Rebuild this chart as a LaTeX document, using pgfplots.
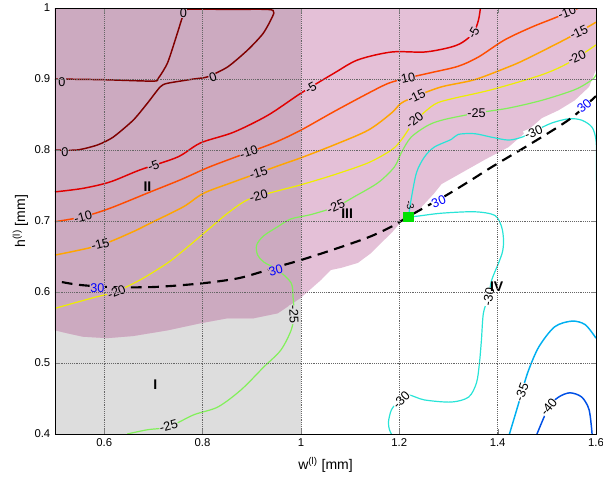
\documentclass[border=0pt]{standalone}
\usepackage{pgfplots}
\pgfplotsset{compat=1.18}
\usepackage{fontspec}
\setmainfont{Liberation Sans}
\definecolor{mauve}{RGB}{204,170,192}
\definecolor{pinkreg}{RGB}{228,192,215}
\definecolor{grayreg}{RGB}{221,221,221}
\definecolor{c0}{RGB}{128,0,0}
\definecolor{c5}{RGB}{225,0,0}
\definecolor{c10}{RGB}{255,75,0}
\definecolor{c15}{RGB}{255,165,0}
\definecolor{c20}{RGB}{238,238,0}
\definecolor{c25}{RGB}{130,240,90}
\definecolor{c30}{RGB}{40,228,215}
\definecolor{c35}{RGB}{0,175,240}
\definecolor{c40}{RGB}{0,80,230}
\definecolor{sq}{RGB}{0,225,0}
\newcommand{\clab}[5]{\node[rotate=#3, fill=#5, inner sep=0.2pt, font=\fontsize{9.5}{10}\selectfont] at (axis cs:#1,#2) {#4};}
\newcommand{\blab}[4]{\node[rotate=#3, fill=#4, inner sep=0.2pt, text=blue, font=\fontsize{9.5}{10}\selectfont] at (axis cs:#1,#2) {30};}
\newcommand{\rlab}[3]{\node[font=\bfseries\fontsize{10.5}{12}\selectfont] at (axis cs:#1,#2) {#3};}
\begin{document}
\begin{tikzpicture}
\begin{axis}[
  scale only axis, width=405.75pt, height=319.5pt,
  xmin=0.5, xmax=1.6, ymin=0.4, ymax=1,
  xtick={0.6,0.8,1,1.2,1.4,1.6},
  ytick={0.4,0.5,0.6,0.7,0.8,0.9,1},
  grid=major, grid style={densely dotted, black!60, line width=0.5pt},
  axis on top,
  tick align=inside, major tick length=3.5pt,
  tick label style={font=\fontsize{8.5}{9}\selectfont},
  /pgf/number format/assume math mode=true,
  axis line style={line width=0.5pt},
  every axis x label/.style={at={(axis description cs:0.5,-0.073)}, anchor=center},
  every axis y label/.style={at={(axis description cs:-0.064,0.5)}, rotate=90, anchor=center},
  label style={font=\fontsize{10.5}{12}\selectfont},
  xlabel={w\textsuperscript{(l)} [mm]},
  ylabel={h\textsuperscript{(l)} [mm]},
]
% regions
\addplot[fill=grayreg, draw=none] coordinates {(0.5,0.4) (1,0.4) (1,1) (0.5,1)} -- cycle;
\addplot[fill=pinkreg, draw=none] coordinates {
 (0.5,1) (1.6,1) (1.6,0.913) (1.586,0.889) (1.557,0.870) (1.524,0.856) (1.49,0.845)
 (1.455,0.824) (1.422,0.804) (1.373,0.786) (1.327,0.768) (1.286,0.752) (1.271,0.739)
 (1.239,0.715) (1.218,0.706) (1.204,0.699) (1.184,0.683) (1.163,0.669) (1.143,0.655)
 (1.116,0.641) (1.082,0.634) (1.061,0.631) (1.041,0.617) (1.0,0.592)
 (0.953,0.570) (0.904,0.563) (0.851,0.563) (0.796,0.556) (0.729,0.546) (0.659,0.538)
 (0.606,0.535) (0.557,0.537) (0.524,0.542) (0.5,0.546)} -- cycle;
\addplot[fill=mauve, draw=none] coordinates {
 (0.5,1) (1,1) (1.0,0.592)
 (0.953,0.570) (0.904,0.563) (0.851,0.563) (0.796,0.556) (0.729,0.546) (0.659,0.538)
 (0.606,0.535) (0.557,0.537) (0.524,0.542) (0.5,0.546)} -- cycle;
% contour 0
\addplot[c0, line width=1.1pt, smooth, tension=0.4] coordinates {
 (0.5,0.9) (0.6,0.899) (0.7,0.897) (0.710,0.901) (0.729,0.923) (0.749,0.965) (0.759,0.987)
 (0.767,0.998) (0.85,0.998) (0.933,0.998) (0.945,0.993) (0.924,0.965) (0.892,0.941) (0.851,0.917)
 (0.810,0.903) (0.782,0.9) (0.729,0.894) (0.714,0.889) (0.688,0.866) (0.659,0.842)
 (0.618,0.818) (0.586,0.807) (0.545,0.8) (0.5,0.8)};
% contour -5
\addplot[c5, line width=1.1pt, smooth, tension=0.5] coordinates {
 (0.5,0.741) (0.557,0.746) (0.612,0.755) (0.673,0.772) (0.749,0.79) (0.796,0.81) (0.863,0.825)
 (0.933,0.849) (1.0,0.88) (1.067,0.908) (1.116,0.927) (1.184,0.938) (1.251,0.938) (1.30,0.944)
 (1.327,0.951) (1.351,0.965) (1.361,0.983) (1.365,1.0)};
% contour -10
\addplot[c10, line width=1.1pt, smooth, tension=0.5] coordinates {
 (0.5,0.699) (0.557,0.706) (0.612,0.718) (0.694,0.741) (0.755,0.758) (0.810,0.775) (0.863,0.789)
 (0.945,0.81) (1.0,0.828) (1.067,0.854) (1.137,0.880) (1.178,0.894) (1.214,0.901) (1.265,0.909)
 (1.32,0.918) (1.361,0.931) (1.414,0.955) (1.469,0.973) (1.516,0.986) (1.565,1.0)};
% contour -15
\addplot[c15, line width=1.1pt, smooth, tension=0.5] coordinates {
 (0.5,0.652) (0.592,0.666) (0.659,0.685) (0.694,0.697) (0.761,0.72) (0.802,0.739) (0.863,0.755)
 (0.959,0.779) (1.0,0.789) (1.067,0.807) (1.137,0.828) (1.184,0.852) (1.204,0.866) (1.235,0.876)
 (1.286,0.889) (1.353,0.899) (1.422,0.917) (1.455,0.927) (1.524,0.951) (1.565,0.966) (1.6,0.98)};
% contour -20
\addplot[c20, line width=0.9pt, smooth, tension=0.5] coordinates {
 (0.5,0.577) (0.578,0.592) (0.622,0.6) (0.673,0.617) (0.729,0.641) (0.769,0.663) (0.810,0.687)
 (0.851,0.711) (0.892,0.730) (0.945,0.741) (1.0,0.751) (1.067,0.765) (1.137,0.782) (1.184,0.8)
 (1.204,0.814) (1.231,0.84) (1.271,0.864) (1.306,0.872) (1.388,0.885) (1.49,0.906) (1.545,0.923)
 (1.6,0.948)};
% contour -25
\addplot[c25, line width=0.9pt, smooth, tension=0.5] coordinates {
 (1.6,0.906) (1.592,0.899) (1.557,0.885) (1.49,0.870) (1.422,0.859) (1.357,0.852) (1.292,0.843)
 (1.259,0.835) (1.224,0.818) (1.204,0.796) (1.190,0.776) (1.157,0.754) (1.108,0.734) (1.071,0.72)
 (1.02,0.709) (0.98,0.703) (0.953,0.692) (0.924,0.679) (0.910,0.666) (0.912,0.652) (0.925,0.642)
 (0.953,0.631) (0.98,0.613) (0.984,0.593) (0.986,0.568) (0.98,0.546) (0.959,0.518) (0.924,0.494)
 (0.878,0.462) (0.831,0.438) (0.782,0.427) (0.731,0.410) (0.688,0.406) (0.647,0.4)};
% contour -30
\addplot[c30, line width=0.9pt, smooth, tension=0.5] coordinates {
 (1.220,0.712) (1.224,0.730) (1.235,0.768) (1.251,0.790) (1.271,0.804) (1.306,0.815) (1.320,0.822)
 (1.353,0.823) (1.388,0.818) (1.422,0.814) (1.449,0.818) (1.473,0.826) (1.51,0.838) (1.545,0.844)
 (1.571,0.842) (1.592,0.832) (1.600,0.814) (1.601,0.786) (1.601,0.757)};
\addplot[c30, line width=0.9pt, smooth, tension=0.5] coordinates {
 (1.224,0.706) (1.239,0.707) (1.286,0.711) (1.353,0.713) (1.394,0.708) (1.408,0.692) (1.412,0.673)
 (1.410,0.657) (1.402,0.641) (1.388,0.617) (1.381,0.593) (1.371,0.570) (1.367,0.532) (1.363,0.5)
 (1.357,0.472) (1.341,0.452) (1.306,0.445) (1.251,0.448) (1.218,0.455) (1.198,0.446) (1.184,0.434)
 (1.178,0.417) (1.18,0.406) (1.184,0.4)};
% contour -35
\addplot[c35, line width=1.1pt, smooth, tension=0.5] coordinates {
 (1.424,0.4) (1.443,0.444) (1.449,0.459) (1.463,0.490) (1.484,0.523) (1.516,0.551) (1.551,0.559)
 (1.578,0.554) (1.6,0.535)};
% contour -40
\addplot[c40, line width=1.1pt, smooth, tension=0.5] coordinates {
 (1.48,0.4) (1.504,0.438) (1.524,0.452) (1.547,0.458) (1.571,0.452) (1.586,0.434) (1.592,0.4)};
% marker and dashed line
\addplot[only marks, mark=square*, mark size=3.6pt, mark options={fill=sq, draw=sq}] coordinates {(1.218,0.706)};
\addplot[black, line width=1.6pt, dash pattern=on 8pt off 5pt, smooth, tension=0.5] coordinates {
 (0.514,0.614) (0.55,0.610) (0.612,0.607) (0.7,0.607) (0.796,0.612) (0.87,0.619) (0.918,0.628)
 (0.96,0.637) (1.0,0.645) (1.067,0.660) (1.137,0.677) (1.184,0.692) (1.218,0.706) (1.259,0.722)
 (1.30,0.738) (1.347,0.758) (1.388,0.776) (1.463,0.807) (1.524,0.833) (1.557,0.849) (1.6,0.876)};
% contour labels
\clab{0.761}{0.993}{0}{0}{mauve}
\clab{0.821}{0.902}{20}{0}{mauve}
\clab{0.514}{0.896}{0}{0}{mauve}
\clab{0.52}{0.797}{0}{0}{mauve}
\clab{0.70}{0.778}{20}{-5}{mauve}
\clab{1.02}{0.887}{30}{-5}{pinkreg}
\clab{1.351}{0.965}{60}{-5}{pinkreg}
\clab{0.557}{0.706}{15}{-10}{mauve}
\clab{0.894}{0.797}{18}{-10}{mauve}
\clab{1.214}{0.901}{12}{-10}{pinkreg}
\clab{1.541}{0.994}{20}{-10}{pinkreg}
\clab{0.592}{0.667}{15}{-15}{mauve}
\clab{0.914}{0.768}{18}{-15}{mauve}
\clab{1.235}{0.876}{25}{-15}{pinkreg}
\clab{1.565}{0.966}{25}{-15}{pinkreg}
\clab{0.625}{0.600}{22}{-20}{mauve}
\clab{0.914}{0.735}{15}{-20}{mauve}
\clab{1.231}{0.842}{38}{-20}{pinkreg}
\clab{1.561}{0.931}{25}{-20}{pinkreg}
\clab{0.731}{0.411}{15}{-25}{grayreg}
\clab{0.986}{0.568}{-88}{-25}{grayreg}
\clab{1.071}{0.720}{25}{-25}{pinkreg}
\clab{1.357}{0.852}{0}{-25}{pinkreg}
\clab{1.473}{0.825}{22}{-30}{white}
\clab{1.382}{0.593}{80}{-30}{white}
\clab{1.204}{0.448}{45}{-30}{white}
\clab{1.449}{0.459}{70}{-35}{white}
\clab{1.504}{0.438}{50}{-40}{white}
\node[rotate=-80, inner sep=0.2pt, font=\fontsize{7.5}{8}\selectfont] at (axis cs:1.222,0.722) {-3};
\blab{0.586}{0.606}{0}{mauve}
\blab{0.949}{0.631}{15}{mauve}
\blab{1.28}{0.727}{22}{white}
\blab{1.576}{0.862}{40}{white}
\rlab{0.704}{0.469}{I}
\rlab{0.688}{0.749}{II}
\rlab{1.094}{0.710}{III}
\rlab{1.398}{0.608}{IV}
\end{axis}
\pgfresetboundingbox
\useasboundingbox (-41.25pt,-35.25pt) rectangle (411pt,325.5pt);
\end{tikzpicture}
\end{document}
